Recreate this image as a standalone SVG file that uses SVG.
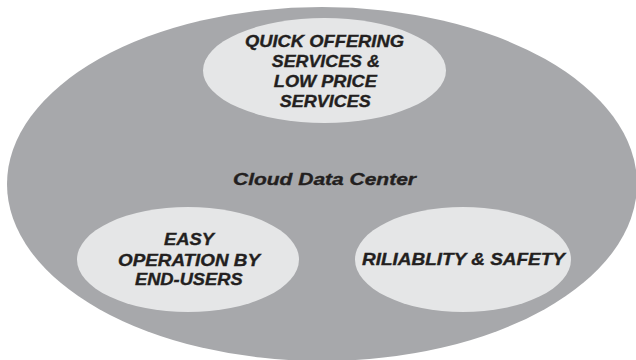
<svg xmlns="http://www.w3.org/2000/svg" width="636" height="360" viewBox="0 0 636 360">
<style>
.big{fill:#a7a8ab}
.sub{fill:#e5e6e7}
.t{font-family:"Liberation Sans",Arial,sans-serif;font-weight:bold;font-style:italic;font-size:17px;fill:#231f20;text-anchor:middle;stroke:#231f20;stroke-width:0.35}
</style>
<rect width="636" height="360" fill="#ffffff"/>
<g id="cloud-data-center">
<ellipse class="big" cx="322" cy="184" rx="315" ry="177"/>
<text class="t" x="324.5" y="185" textLength="183" lengthAdjust="spacingAndGlyphs">Cloud Data Center</text>
</g>
<g id="quick-offering">
<ellipse class="sub" cx="324.5" cy="70.5" rx="121.5" ry="52.5"/>
<text class="t" x="324.5" y="47.3" textLength="159" lengthAdjust="spacingAndGlyphs">QUICK OFFERING</text>
<text class="t" x="325.8" y="67.3" textLength="108" lengthAdjust="spacingAndGlyphs">SERVICES &amp;</text>
<text class="t" x="325.3" y="87.3" textLength="103" lengthAdjust="spacingAndGlyphs">LOW PRICE</text>
<text class="t" x="325.3" y="107.3" textLength="91" lengthAdjust="spacingAndGlyphs">SERVICES</text>
</g>
<g id="easy-operation">
<ellipse class="sub" cx="188" cy="259.5" rx="111" ry="52.5"/>
<text class="t" x="189" y="245" textLength="50" lengthAdjust="spacingAndGlyphs">EASY</text>
<text class="t" x="189" y="266" textLength="142" lengthAdjust="spacingAndGlyphs">OPERATION BY</text>
<text class="t" x="188.8" y="285" textLength="107.7" lengthAdjust="spacingAndGlyphs">END-USERS</text>
</g>
<g id="reliability-safety">
<ellipse class="sub" cx="463" cy="259.5" rx="108" ry="52.5"/>
<text class="t" x="463.5" y="265" textLength="203" lengthAdjust="spacingAndGlyphs">RILIABLITY &amp; SAFETY</text>
</g>
<g id="connectors"/>
</svg>
